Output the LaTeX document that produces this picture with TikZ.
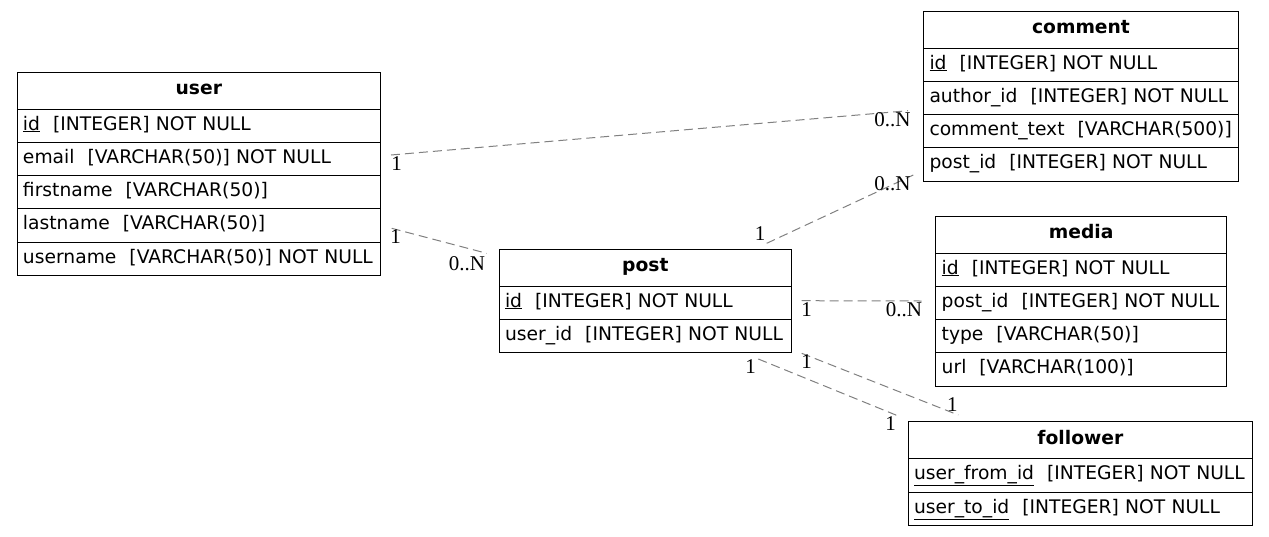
\documentclass[tikz,border=0pt]{standalone}
\usepackage{fontspec}
\setmainfont{DejaVu Sans}
\newfontfamily\lblfont{Liberation Serif}
\usepackage{tikz}
\usetikzlibrary{positioning}

\tikzset{
  tbltitle/.style={draw=black, line width=1pt, outer sep=0pt, inner xsep=6pt, inner ysep=0pt,
    minimum height=37pt, text height=14pt, text depth=5.3pt, align=center,
    font=\fontsize{18.7}{22}\selectfont\bfseries, anchor=north west},
  tblrow/.style={draw=black, line width=1pt, outer sep=0pt, inner xsep=6pt, inner ysep=0pt,
    minimum height=33.3pt, text height=14pt, text depth=5.3pt, align=left,
    font=\fontsize{18.7}{22}\selectfont},
  card/.style={inner sep=0pt, font=\fontsize{21}{24}\selectfont\lblfont},
  rel/.style={draw=black!50, line width=1pt, dash pattern=on 9pt off 5pt},
}
\newcommand{\fld}[2]{\mbox{#1\hspace{13pt}#2}}

\begin{document}
\begin{tikzpicture}[x=1pt,y=-1pt]
		\useasboundingbox (0,0) rectangle (1269,536);
		% user
		\node[tbltitle,text width=351.7pt] (user) at (17,72) {user};
		\node[tblrow,text width=351.7pt,below=0pt of user] (user-id) {\fld{\underline{id}}{[INTEGER] NOT NULL}};
		\node[tblrow,text width=351.7pt,below=0pt of user-id] (user-email) {\fld{email}{[VARCHAR(50)] NOT NULL}};
		\node[tblrow,text width=351.7pt,below=0pt of user-email] (user-first) {\fld{firstname}{[VARCHAR(50)]}};
		\node[tblrow,text width=351.7pt,below=0pt of user-first] (user-last) {\fld{lastname}{[VARCHAR(50)]}};
		\node[tblrow,text width=351.7pt,below=0pt of user-last] (user-name) {\fld{username}{[VARCHAR(50)] NOT NULL}};
		% comment
		\node[tbltitle,text width=303pt] (comment) at (923.5,11) {comment};
		\node[tblrow,text width=303pt,below=0pt of comment] (comment-id) {\fld{\underline{id}}{[INTEGER] NOT NULL}};
		\node[tblrow,text width=303pt,below=0pt of comment-id] (comment-author) {\fld{author\_id}{[INTEGER] NOT NULL}};
		\node[tblrow,text width=303pt,below=0pt of comment-author] (comment-text) {\fld{comment\_text}{[VARCHAR(500)]}};
		\node[tblrow,text width=303pt,below=0pt of comment-text] (comment-post) {\fld{post\_id}{[INTEGER] NOT NULL}};
		% media
		\node[tbltitle,text width=279pt] (media) at (935.7,216) {media};
		\node[tblrow,text width=279pt,below=0pt of media] (media-id) {\fld{\underline{id}}{[INTEGER] NOT NULL}};
		\node[tblrow,text width=279pt,below=0pt of media-id] (media-post) {\fld{post\_id}{[INTEGER] NOT NULL}};
		\node[tblrow,text width=279pt,below=0pt of media-post] (media-type) {\fld{type}{[VARCHAR(50)]}};
		\node[tblrow,text width=279pt,below=0pt of media-type] (media-url) {\fld{url}{[VARCHAR(100)]}};
		% post
		\node[tbltitle,text width=280.7pt] (post) at (499,249) {post};
		\node[tblrow,text width=280.7pt,below=0pt of post] (post-id) {\fld{\underline{id}}{[INTEGER] NOT NULL}};
		\node[tblrow,text width=280.7pt,below=0pt of post-id] (post-user) {\fld{user\_id}{[INTEGER] NOT NULL}};
		% follower
		\node[tbltitle,text width=332.7pt] (follower) at (908,421.7) {follower};
		\node[tblrow,text width=332.7pt,below=0pt of follower] (follower-from) {\fld{\underline{user\_from\_id}}{[INTEGER] NOT NULL}};
		\node[tblrow,text width=332.7pt,below=0pt of follower-from] (follower-to) {\fld{\underline{user\_to\_id}}{[INTEGER] NOT NULL}};
		%
		% connector ends
		\coordinate (r1a) at (391,155);     \coordinate (r1b) at (908,110.7);
		\coordinate (r2a) at (391.7,228.3); \coordinate (r2b) at (486.7,253.3);
		\coordinate (r3a) at (766.7,243.3); \coordinate (r3b) at (913.3,175);
		\coordinate (r4a) at (801.7,300.7); \coordinate (r4b) at (921.7,301);
		\coordinate (r5a) at (758.3,359);   \coordinate (r5b) at (898.3,416);
		\coordinate (r6a) at (801.7,353.3); \coordinate (r6b) at (958.3,415);
		% relations
		\draw[rel] (r1a) -- (r1b);
		\draw[rel] (r2a) -- (r2b);
		\draw[rel] (r3a) -- (r3b);
		\draw[rel] (r4a) -- (r4b);
		\draw[rel] (r5a) -- (r5b);
		\draw[rel] (r6a) -- (r6b);
		% cardinalities
		\node[card] (c1a) at (396.5,164) {1};
		\node[card] (c1b) at (892.5,119.5) {0..N};
		\node[card] (c2a) at (395.7,236.3) {1};
		\node[card] (c2b) at (467,263.7) {0..N};
		\node[card] (c3a) at (760,233.3) {1};
		\node[card] (c3b) at (892.5,183.3) {0..N};
		\node[card] (c4a) at (806.7,309.7) {1};
		\node[card] (c4b) at (904,310) {0..N};
		\node[card] (c5a) at (750.7,367) {1};
		\node[card] (c5b) at (890.7,424) {1};
		\node[card] (c6a) at (806.7,361.7) {1};
		\node[card] (c6b) at (952.3,404.5) {1};
\end{tikzpicture}
\end{document}
